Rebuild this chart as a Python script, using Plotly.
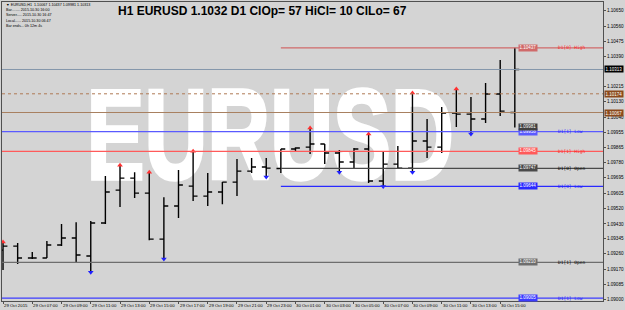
import plotly.graph_objects as go

# ---------------- data ----------------
bar_index = list(range(36))  # 29 Oct 05:00 ... 30 Oct 16:00 (H1)
opens = [1.09280, 1.09303, 1.09235, 1.09235, 1.09309, 1.09349, 1.09246, 1.09435, 1.09623, 1.09692,
         1.09606, 1.09343, 1.09532, 1.09646, 1.09589, 1.09612, 1.09669, 1.09732, 1.09755, 1.09747,
         1.09858, 1.09869, 1.09887, 1.09835, 1.09784, 1.09858, 1.09675, 1.09772, 1.09749, 1.09904,
         1.09869, 1.10064, 1.10058, 1.10030, 1.10173, 1.10067]
highs = [1.09326, 1.09320, 1.09269, 1.09332, 1.09429, 1.09440, 1.09446, 1.09704, 1.09766, 1.09726,
         1.09726, 1.09583, 1.09738, 1.09845, 1.09721, 1.09669, 1.09801, 1.09807, 1.09807, 1.09858,
         1.09869, 1.09978, 1.09887, 1.09852, 1.09864, 1.09944, 1.09847, 1.09875, 1.10178, 1.10030,
         1.10098, 1.10201, 1.10155, 1.10236, 1.10367, 1.10437]
lows = [1.09166, 1.09200, 1.09229, 1.09235, 1.09303, 1.09212, 1.09154, 1.09429, 1.09526, 1.09578,
        1.09337, 1.09229, 1.09463, 1.09561, 1.09532, 1.09543, 1.09589, 1.09721, 1.09698, 1.09721,
        1.09847, 1.09829, 1.09772, 1.09726, 1.09744, 1.09664, 1.09644, 1.09744, 1.09726, 1.09807,
        1.09835, 1.09984, 1.09944, 1.10007, 1.10047, 1.09981]
closes = [1.09303, 1.09235, 1.09235, 1.09309, 1.09349, 1.09252, 1.09435, 1.09612, 1.09692, 1.09606,
          1.09343, 1.09532, 1.09652, 1.09589, 1.09612, 1.09669, 1.09732, 1.09755, 1.09749, 1.09858,
          1.09864, 1.09887, 1.09835, 1.09784, 1.09858, 1.09675, 1.09772, 1.09749, 1.09904, 1.09869,
          1.10064, 1.10058, 1.10030, 1.10173, 1.10075, 1.10313]

up_arrow_bars = [0, 8, 10, 13, 21, 25, 28, 31]
down_arrow_bars = [6, 11, 18, 23, 26, 28, 32]

time_label_bars = [0, 2, 4, 6, 8, 10, 12, 14, 16, 18, 20, 22, 24, 26, 28, 30, 32, 34]
time_labels = ["29 Oct 2015", "29 Oct 07:00", "29 Oct 09:00", "29 Oct 11:00", "29 Oct 13:00",
               "29 Oct 15:00", "29 Oct 17:00", "29 Oct 19:00", "29 Oct 21:00", "29 Oct 23:00",
               "30 Oct 01:00", "30 Oct 03:00", "30 Oct 05:00", "30 Oct 07:00", "30 Oct 09:00",
               "30 Oct 11:00", "30 Oct 13:00", "30 Oct 15:00"]

price_ticks = [1.10650, 1.10560, 1.10475, 1.10390, 1.10215, 1.10130, 1.10040, 1.09955,
               1.09865, 1.09780, 1.09695, 1.09605, 1.09520, 1.09430, 1.09345, 1.09260,
               1.09170, 1.09085, 1.09000]

level_names = ["D1[0] High", "D1[1] Low", "D1[1] High", "D1[0] Open", "D1[0] Low", "D1[1] Open", "D1[1] Low"]
level_prices = [1.10437, 1.09958, 1.09845, 1.09747, 1.09644, 1.09210, 1.09005]
level_start = [19, None, None, 19, 19, None, None]
level_colors = ["#d06a6a", "#5a5aff", "#ff5a5a", "#4a4a4a", "#2a2aff", "#6e6e6e", "#3c3cff"]
level_text_colors = ["#ff2020", "#1a1aff", "#ff2020", "#000000", "#1a1aff", "#000000", "#1a1aff"]

current_price = 1.10313
open_price = 1.10067
mid_price = 1.10174
extra_box_price = 1.09981

title_text = "H1 EURUSD 1.1032 D1 ClOp= 57 HiCl= 10 ClLo= 67"
watermark_text = "EURUSD"
info_lines = ["\u25bc EURUSD,H1  1.10067 1.10437 1.09981 1.10313",
              "Bar........ 2015.10.30 16:00",
              "Server..... 2015.10.30 16:47",
              "Local...... 2015.10.30 06:47",
              "Bar ends... 0h 12m 4s"]

# ---------------- layout geometry ----------------
W, H = 625, 310
ML, MR, MT, MB = 1, 19, 2, 9
PW, PH = W - ML - MR, H - MT - MB
XR = [-0.07, 41.03]
YR = [1.08989, 1.10699]
BG = "#d4d4d4"
SMALL = "Liberation Sans"


def px_x(p):
    return (p - ML) / PW


def px_y(p):
    return (MT + PH - p) / PH


def data_x(p):
    return XR[0] + (p - ML) / PW * (XR[1] - XR[0])


def data_y(p):
    return YR[0] + (MT + PH - p) / PH * (YR[1] - YR[0])


fig = go.Figure()

# watermark on the base axes; the bars live on an overlaying axis pair drawn above it
fig.add_trace(go.Scatter(
    x=[data_x(271)], y=[data_y(147)], mode="text", text=[watermark_text],
    textposition="middle center", xaxis="x", yaxis="y",
    textfont=dict(family="Liberation Sans", size=128, color="white", weight="bold"),
    showlegend=False, hoverinfo="skip", cliponaxis=False))

fig.add_trace(go.Ohlc(
    x=bar_index, open=opens, high=highs, low=lows, close=closes, xaxis="x2", yaxis="y2",
    increasing=dict(line=dict(color="black", width=1.4)),
    decreasing=dict(line=dict(color="black", width=1.4)),
    tickwidth=0.3, showlegend=False, hoverinfo="skip"))

fig.add_trace(go.Scatter(
    x=up_arrow_bars, y=[highs[i] for i in up_arrow_bars], mode="markers", xaxis="x2", yaxis="y2",
    marker=dict(symbol="triangle-up", size=5, color="#ff3030"), showlegend=False, hoverinfo="skip"))
fig.add_trace(go.Scatter(
    x=down_arrow_bars, y=[lows[i] for i in down_arrow_bars], mode="markers", xaxis="x2", yaxis="y2",
    marker=dict(symbol="triangle-down", size=5, color="#2020ff"), showlegend=False, hoverinfo="skip"))

shapes = []
shapes.append(dict(type="line", xref="paper", x0=0, x1=1, yref="y", y0=current_price, y1=current_price,
                   line=dict(color="#8496aa", width=1)))
shapes.append(dict(type="line", xref="paper", x0=0, x1=1, yref="y", y0=mid_price, y1=mid_price,
                   line=dict(color="#b07a55", width=1, dash="dot")))
shapes.append(dict(type="line", xref="paper", x0=0, x1=1, yref="y", y0=open_price, y1=open_price,
                   line=dict(color="#a88060", width=1.2)))

annotations = []
LABEL_X = 35.25
TEXT_X = 37.8
for name, pr, st, col, tcol in zip(level_names, level_prices, level_start, level_colors, level_text_colors):
    if st is None:
        shapes.append(dict(type="line", xref="paper", x0=0, x1=1, yref="y", y0=pr, y1=pr,
                           line=dict(color=col, width=1.2)))
    else:
        shapes.append(dict(type="line", xref="x", x0=st, x1=XR[1], yref="y", y0=pr, y1=pr,
                           line=dict(color=col, width=1.2)))
    annotations.append(dict(x=LABEL_X, y=pr, xref="x", yref="y", text=f"{pr:.5f}", showarrow=False,
                            xanchor="left", yanchor="middle", bgcolor=col, borderpad=0.4,
                            font=dict(family=SMALL, size=4.5, color="white")))
    annotations.append(dict(x=TEXT_X, y=pr, xref="x", yref="y", text=name, showarrow=False,
                            xanchor="left", yanchor="middle",
                            font=dict(family="DejaVu Sans Mono", size=4.5, color=tcol)))

annotations.append(dict(x=LABEL_X, y=extra_box_price, xref="x", yref="y", text=f"{extra_box_price:.5f}",
                        showarrow=False, xanchor="left", yanchor="middle", yshift=1, bgcolor="#404040",
                        borderpad=0.4, font=dict(family=SMALL, size=4.5, color="white")))

for pr, col in [(current_price, "#000000"), (mid_price, "#8b4a1c"), (open_price, "#8b4a1c")]:
    annotations.append(dict(x=1, y=pr, xref="paper", yref="y", text=f"{pr:.5f}", showarrow=False,
                            xanchor="left", yanchor="middle", xshift=1, bgcolor=col, borderpad=0.6,
                            font=dict(family=SMALL, size=4.5, color="white")))

for b, lab in zip(time_label_bars, time_labels):
    annotations.append(dict(x=b, y=0, xref="x", yref="paper", text=lab, showarrow=False,
                            xanchor="left", yanchor="top", xshift=-1, yshift=0,
                            font=dict(family=SMALL, size=4.3, color="black")))

annotations.append(dict(x=px_x(116), y=px_y(11), xref="paper", yref="paper", text=title_text,
                        showarrow=False, xanchor="left", yanchor="middle",
                        font=dict(family="Liberation Sans", size=12, color="black", weight="bold")))

for k, line in enumerate(info_lines):
    annotations.append(dict(x=px_x(3), y=px_y(5 + 5.2 * k), xref="paper", yref="paper", text=line,
                            showarrow=False, xanchor="left", yanchor="middle",
                            font=dict(family=SMALL, size=3.7, color="black")))

fig.update_layout(
    width=W, height=H, margin=dict(l=ML, r=MR, t=MT, b=MB),
    paper_bgcolor=BG, plot_bgcolor=BG,
    shapes=shapes, annotations=annotations, showlegend=False,
    xaxis=dict(range=XR, rangeslider=dict(visible=False), showgrid=False, zeroline=False,
               tickvals=time_label_bars, showticklabels=False, ticks="outside", ticklen=2,
               tickcolor="#505050", showline=True, linecolor="#505050", linewidth=1, mirror=True),
    yaxis=dict(range=YR, side="right", showgrid=False, zeroline=False,
               tickvals=price_ticks, ticktext=[f"{v:.5f}" for v in price_ticks],
               ticks="outside", ticklen=2, tickcolor="#505050",
               tickfont=dict(family=SMALL, size=4.6, color="black"),
               showline=True, linecolor="#505050", linewidth=1, mirror=True),
    xaxis2=dict(range=XR, overlaying="x", visible=False, rangeslider=dict(visible=False),
                showgrid=False, zeroline=False),
    yaxis2=dict(range=YR, overlaying="y", visible=False, showgrid=False, zeroline=False),
)

post_js = """
var gd = document.getElementById('{plot_id}');
function squeezeWatermark(){
  document.querySelectorAll('.textpoint text').forEach(function(t){
    if (t.textContent === 'EURUSD') {
      t.style.transformBox = 'fill-box';
      t.style.transformOrigin = '50% 50%';
      t.style.transform = 'scaleX(0.68)';
      t.style.stroke = 'white';
      t.style.strokeWidth = '3.5px';
    }
  });
}
squeezeWatermark();
if (gd && gd.on) { gd.on('plotly_afterplot', squeezeWatermark); }
"""

fig.write_html("out.html", post_script=post_js)
